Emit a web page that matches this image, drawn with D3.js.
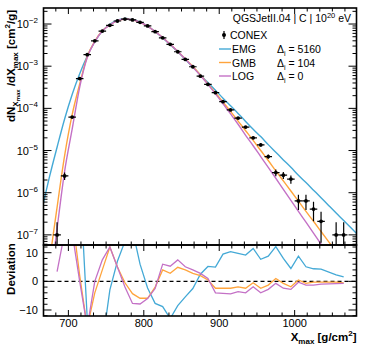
<!DOCTYPE html>
<html>
<head>
<meta charset="utf-8">
<script src="https://cdn.jsdelivr.net/npm/d3@7/dist/d3.min.js"></script>
<style>
  body { margin: 0; background: #fff; }
  svg { display: block; font-family: "Liberation Sans", Arial, Helvetica, sans-serif; }
</style>
</head>
<body>
<svg id="chart" width="366" height="351"></svg>
<script>
const width = 366;
const height = 351;

// panel frames (pixel edges)
const frame = { left: 43.5, right: 356.5, top: 8, mid: 245, bottom: 316 };

/* DATA */
// CONEX histogram, bin centres in g/cm2 (1045 bin is empty)
const binCentres = [685, 695, 705, 715, 725, 735, 745, 755, 765, 775, 785, 795, 805, 815, 825,
  835, 845, 855, 865, 875, 885, 895, 905, 915, 925, 935, 945, 955, 965, 975, 985, 995, 1005,
  1015, 1025, 1035, 1055, 1065];
const conex = [1.0e-7, 2.5e-6, 6.2e-5, 5.1e-4, 1.88e-3, 4.0e-3, 6.8e-3, 9.3e-3, 1.18e-2, 1.31e-2,
  1.25e-2, 1.10e-2, 9.0e-3, 6.6e-3, 4.7e-3, 3.3e-3, 2.2e-3, 1.45e-3, 9.7e-4, 5.8e-4, 3.7e-4,
  2.35e-4, 1.44e-4, 9.2e-5, 5.9e-5, 3.6e-5, 2.0e-5, 1.36e-5, 7.2e-6, 3.0e-6, 2.6e-6, 2.1e-6,
  6.4e-7, 6.4e-7, 4.1e-7, 2.1e-7, 1.0e-7, 1.0e-7];
const conexErr = [1.0e-7, 5e-7, 2.5e-6, 7e-6, 1.4e-5, 2e-5, 2.6e-5, 3e-5, 3.4e-5, 3.6e-5,
  3.5e-5, 3.3e-5, 3e-5, 2.6e-5, 2.2e-5, 1.8e-5, 1.5e-5, 1.2e-5, 1e-5, 7.6e-6, 6e-6,
  4.8e-6, 3.8e-6, 3e-6, 2.4e-6, 1.9e-6, 1.4e-6, 1.2e-6, 8.5e-7, 5.5e-7, 5e-7, 4.6e-7,
  2.5e-7, 2.5e-7, 2e-7, 1.45e-7, 1e-7, 1e-7];
const binHalfWidth = 5;

// fitted model curves, sampled every 10 g/cm2
const modelX = [665, 675, 685, 695, 705, 715, 725, 735, 745, 755, 765, 775, 785, 795, 805, 815,
  825, 835, 845, 855, 865, 875, 885, 895, 905, 915, 925, 935, 945, 955, 965, 975, 985, 995,
  1005, 1015, 1025, 1035, 1045, 1055, 1065, 1075, 1085];
const emg = [4.0e-7, 2.4e-6, 1.2e-5, 5.6e-5, 2.14e-4, 6.6e-4, 1.74e-3, 3.8e-3, 6.8e-3, 9.8e-3,
  1.23e-2, 1.35e-2, 1.29e-2, 1.12e-2, 8.9e-3, 6.6e-3, 4.7e-3, 3.24e-3, 2.19e-3, 1.45e-3,
  9.5e-4, 6.2e-4, 4.1e-4, 2.7e-4, 1.74e-4, 1.15e-4, 7.6e-5, 4.9e-5, 3.2e-5, 2.14e-5, 1.38e-5,
  9.1e-6, 6.0e-6, 4.0e-6, 2.6e-6, 1.74e-6, 1.15e-6, 7.6e-7, 5.0e-7, 3.3e-7, 2.2e-7, 1.45e-7, 9.5e-8];
const gmb = [5e-10, 2.2e-8, 4.5e-7, 7.6e-6, 7.1e-5, 3.8e-4, 1.7e-3, 3.9e-3, 6.9e-3, 9.5e-3,
  1.2e-2, 1.32e-2, 1.26e-2, 1.1e-2, 8.9e-3, 6.6e-3, 4.8e-3, 3.3e-3, 2.24e-3, 1.48e-3,
  9.8e-4, 6.2e-4, 3.8e-4, 2.34e-4, 1.41e-4, 8.5e-5, 5.0e-5, 2.95e-5, 1.74e-5, 1.0e-5, 5.8e-6,
  3.3e-6, 1.9e-6, 1.1e-6, 6.3e-7, 3.6e-7, 2.1e-7, 1.2e-7, 6.9e-8, 4.0e-8, 2.3e-8, 1.3e-8, 7.6e-9];
const lgn = [1e-10, 5e-9, 1.4e-7, 3.2e-6, 3.2e-5, 3.2e-4, 1.6e-3, 3.8e-3, 6.8e-3, 9.5e-3,
  1.2e-2, 1.32e-2, 1.26e-2, 1.1e-2, 8.9e-3, 6.6e-3, 4.8e-3, 3.3e-3, 2.24e-3, 1.48e-3,
  9.5e-4, 6.0e-4, 3.7e-4, 2.2e-4, 1.29e-4, 7.4e-5, 4.2e-5, 2.3e-5, 1.3e-5, 7.2e-6, 4.0e-6,
  2.2e-6, 1.2e-6, 6.6e-7, 3.6e-7, 2.0e-7, 1.1e-7, 6.0e-8, 3.3e-8, 1.8e-8, 1e-8, 5.5e-9, 3e-9];

// deviation per CONEX bin (same order as binCentres)
const devEMG = [60, 55, 45, 37, -13, -20, -22, -3, 7, 14, 18, 6, -2.3, -7.7, -8.8, -13, -8.5,
  -5.4, -2.5, 2.5, 5.2, 5.0, 9.5, 10.4, 9.8, 9.2, 11.5, 7.7, 8.8, 12.1, 8.0, 4.5, 8.8, 5.1,
  4.4, 4.3, 2.3, 1.6];
const devGMB = [30, 28, 23, 2, -16, -4, 4, 12, 5, -0.5, -4.3, -5.9, -5.9, -2, 4, 2.8, 4.9,
  4, 2.8, 2, 0.5, -2.4, -2.4, -2.4, -1.9, -2.4, -0.5, -2.4, -1.3, 1, -0.7, -1.9, 0.5, -0.7,
  -0.3, -0.3, -0.3, -0.5];
const devLOG = [3.4, 17, 17, 0, -16, 0, 7.5, 12, 5, -2, -7.7, -7.9, -6, -2.5, 6, 5.3, 7.5,
  5.1, 4, 2.8, 1, -4, -4.2, -4.4, -3.6, -4, -1.9, -4, -2.8, -0.7, -2.4, -2.8, -0.3, -1.3,
  -1.3, -1.0, -0.8, -0.7];

const modelNames = ["EMG", "GMB", "LOG"];
const modelDelta = ["5160", "104", "0"];
const modelColours = ["#44a9d6", "#ffa43c", "#c471c6"];

const xTickValues = [700, 800, 900, 1000];
const decades = [-7, -6, -5, -4, -3, -2];
const devTickValues = [-10, 0, 10];


/* SCALES */
const scales = {
  x: d3.scaleLinear().domain([667, 1082]).range([frame.left, frame.right]),
  y: d3.scaleLog().domain([Math.pow(10, -7.24), Math.pow(10, -1.62)]).range([frame.mid, frame.top]),
  dev: d3.scaleLinear().domain([-12.1, 12.7]).range([frame.bottom, frame.mid])
};

const svg = d3.select("svg#chart");
const defs = svg.append("defs");

defs.append("clipPath").attr("id", "clip-top")
  .append("rect")
  .attr("x", frame.left).attr("y", frame.top)
  .attr("width", frame.right - frame.left).attr("height", frame.mid - frame.top);

defs.append("clipPath").attr("id", "clip-bottom")
  .append("rect")
  .attr("x", frame.left).attr("y", frame.mid)
  .attr("width", frame.right - frame.left).attr("height", frame.bottom - frame.mid);

drawModels();
drawConex();
drawDeviations();
drawFrames();
drawTicks();
drawTitles();
drawLegend();


/* MODEL CURVES */
function drawModels() {
  const g = svg.append("g").attr("id", "models").attr("clip-path", "url(#clip-top)");
  const series = [emg, gmb, lgn];

  const line = d3.line()
    .x(d => scales.x(d[0]))
    .y(d => scales.y(d[1]))
    .curve(d3.curveMonotoneX);

  series.forEach((vals, i) => {
    g.append("path")
      .datum(modelX.map((x, j) => [x, vals[j]]))
      .attr("d", line)
      .attr("fill", "none")
      .attr("stroke", modelColours[i])
      .attr("stroke-width", 1.4);
  });
}


/* CONEX POINTS */
function drawConex() {
  const g = svg.append("g").attr("id", "conex").attr("clip-path", "url(#clip-top)");
  const yMin = scales.y.domain()[0];

  const pts = g.selectAll("g.pt")
    .data(binCentres.map((x, i) => ({ x: x, y: conex[i], e: conexErr[i] })))
    .enter()
    .append("g").attr("class", "pt");

  pts.append("line")
    .attr("x1", d => scales.x(d.x)).attr("x2", d => scales.x(d.x))
    .attr("y1", d => scales.y(d.y + d.e))
    .attr("y2", d => d.y - d.e > yMin ? scales.y(d.y - d.e) : frame.mid + 5)
    .attr("stroke", "#000").attr("stroke-width", 1.2);

  pts.append("line")
    .attr("x1", d => scales.x(d.x - binHalfWidth)).attr("x2", d => scales.x(d.x + binHalfWidth))
    .attr("y1", d => scales.y(d.y)).attr("y2", d => scales.y(d.y))
    .attr("stroke", "#000").attr("stroke-width", 1.2);

  pts.append("circle")
    .attr("cx", d => scales.x(d.x)).attr("cy", d => scales.y(d.y))
    .attr("r", 1.9).attr("fill", "#000");
}


/* DEVIATION PANEL */
function drawDeviations() {
  const g = svg.append("g").attr("id", "deviation").attr("clip-path", "url(#clip-bottom)");

  g.append("line")
    .attr("x1", frame.left).attr("x2", frame.right)
    .attr("y1", scales.dev(0)).attr("y2", scales.dev(0))
    .attr("stroke", "#000").attr("stroke-width", 1.1)
    .attr("stroke-dasharray", "4,3");

  const line = d3.line()
    .x(d => scales.x(d[0]))
    .y(d => scales.dev(d[1]));

  [devEMG, devGMB, devLOG].forEach((vals, i) => {
    g.append("path")
      .datum(binCentres.map((x, j) => [x, vals[j]]))
      .attr("d", line)
      .attr("fill", "none")
      .attr("stroke", modelColours[i])
      .attr("stroke-width", 1.3);
  });
}


/* FRAMES */
function drawFrames() {
  const g = svg.append("g").attr("id", "frames");
  [[frame.top, frame.mid], [frame.mid, frame.bottom]].forEach(r => {
    g.append("rect")
      .attr("x", frame.left).attr("y", r[0])
      .attr("width", frame.right - frame.left).attr("height", r[1] - r[0])
      .attr("fill", "none").attr("stroke", "#000").attr("stroke-width", 1.6);
  });
}


/* TICKS AND TICK LABELS */
function drawTicks() {
  const g = svg.append("g").attr("id", "ticks").attr("stroke", "#000").attr("stroke-width", 1);

  // x ticks on every horizontal edge, pointing inwards: six subdivisions per 100 g/cm2
  const xMinor = d3.range(0, 30).map(k => 600 + k * 100 / 6)
    .filter(v => v > 667 && v < 1082);
  const edges = [[frame.top, 1], [frame.mid, -1], [frame.mid, 1], [frame.bottom, -1]];
  edges.forEach(e => {
    xMinor.forEach(v => {
      const major = Math.abs(v % 100) < 0.01 || Math.abs(v % 100 - 100) < 0.01;
      const len = major ? 6 : 3.5;
      g.append("line")
        .attr("x1", scales.x(v)).attr("x2", scales.x(v))
        .attr("y1", e[0]).attr("y2", e[0] + e[1] * len);
    });
  });

  // log y ticks on both sides
  decades.concat([-8, -1]).forEach(p => {
    d3.range(1, 10).forEach(m => {
      const v = m * Math.pow(10, p);
      const y = scales.y(v);
      if (y < frame.top || y > frame.mid) return;
      const len = m === 1 ? 8 : 4;
      g.append("line").attr("x1", frame.left).attr("x2", frame.left + len).attr("y1", y).attr("y2", y);
      g.append("line").attr("x1", frame.right).attr("x2", frame.right - len).attr("y1", y).attr("y2", y);
    });
  });

  // deviation ticks
  d3.range(-12, 13, 2).forEach(v => {
    const y = scales.dev(v);
    const len = v % 10 === 0 ? 8 : 4;
    g.append("line").attr("x1", frame.left).attr("x2", frame.left + len).attr("y1", y).attr("y2", y);
    g.append("line").attr("x1", frame.right).attr("x2", frame.right - len).attr("y1", y).attr("y2", y);
  });

  const labels = svg.append("g").attr("id", "tick-labels")
    .attr("font-size", 11).attr("fill", "#000");

  labels.selectAll("text.xl")
    .data(xTickValues).enter()
    .append("text").attr("class", "xl")
    .attr("x", d => scales.x(d)).attr("y", 327)
    .attr("text-anchor", "middle")
    .text(d => d);

  decades.forEach(p => {
    const t = labels.append("text")
      .attr("x", 38).attr("y", scales.y(Math.pow(10, p)) + 4)
      .attr("text-anchor", "end");
    t.append("tspan").text("10");
    t.append("tspan").attr("dy", -5).attr("font-size", 8).text("\u2212" + (-p));
  });

  labels.selectAll("text.dl")
    .data(devTickValues).enter()
    .append("text").attr("class", "dl")
    .attr("x", 38).attr("y", d => scales.dev(d) + 4)
    .attr("text-anchor", "end")
    .text(d => d < 0 ? "\u2212" + (-d) : d);
}


/* rich text helper: parts with a vertical shift (px, positive = down) and size */
function richText(sel, parts, baseSize) {
  let prev = 0;
  parts.forEach(p => {
    const shift = p.shift || 0;
    sel.append("tspan")
      .attr("dy", shift - prev)
      .attr("font-size", p.size || baseSize)
      .text(p.t);
    prev = shift;
  });
}


/* AXIS TITLES */
function drawTitles() {
  const xt = svg.append("text")
    .attr("x", frame.right).attr("y", 341)
    .attr("text-anchor", "end")
    .attr("font-weight", "bold")
    .attr("font-size", 11.5);
  richText(xt, [
    { t: "X" }, { t: "max", shift: 3, size: 8 }, { t: " [g/cm" }, { t: "2", shift: -5, size: 8 }, { t: "]" }
  ], 11.5);

  const yt = svg.append("text")
    .attr("transform", "translate(15,10) rotate(-90)")
    .attr("text-anchor", "end")
    .attr("font-weight", "bold")
    .attr("font-size", 11.5);
  richText(yt, [
    { t: "dN" }, { t: "X", shift: 3, size: 8 }, { t: "max", shift: 5, size: 6 },
    { t: " /dX" }, { t: "max", shift: 3, size: 8 }, { t: " [cm" }, { t: "2", shift: -5, size: 8 },
    { t: "/g]" }
  ], 11.5);

  svg.append("text")
    .attr("transform", "translate(15,269) rotate(-90)")
    .attr("text-anchor", "middle")
    .attr("font-weight", "bold")
    .attr("font-size", 11.5)
    .text("Deviation");
}


/* LEGEND */
function drawLegend() {
  const g = svg.append("g").attr("id", "legend").attr("font-size", 10.5).attr("fill", "#000");

  const head = g.append("text").attr("x", 351).attr("y", 22).attr("text-anchor", "end");
  richText(head, [{ t: "QGSJetII.04 | C | 10" }, { t: "20", shift: -4, size: 7.5 }, { t: " eV" }], 10.5);

  // CONEX entry
  g.append("line").attr("x1", 224).attr("x2", 224).attr("y1", 31).attr("y2", 39)
    .attr("stroke", "#000").attr("stroke-width", 1.2);
  g.append("circle").attr("cx", 224).attr("cy", 35).attr("r", 2).attr("fill", "#000");
  g.append("text").attr("x", 230).attr("y", 39).text("CONEX");

  const rowY = [49, 62.5, 76];
  modelNames.forEach((name, i) => {
    g.append("line")
      .attr("x1", 219).attr("x2", 231)
      .attr("y1", rowY[i]).attr("y2", rowY[i])
      .attr("stroke", modelColours[i]).attr("stroke-width", 1.4);
    g.append("text").attr("x", 232).attr("y", rowY[i] + 4).text(name);

    const dt = g.append("text").attr("x", 277).attr("y", rowY[i] + 4);
    richText(dt, [{ t: "\u0394" }, { t: "i", shift: 3, size: 7 }, { t: " = " + modelDelta[i] }], 10.5);
  });
}
</script>
</body>
</html>
